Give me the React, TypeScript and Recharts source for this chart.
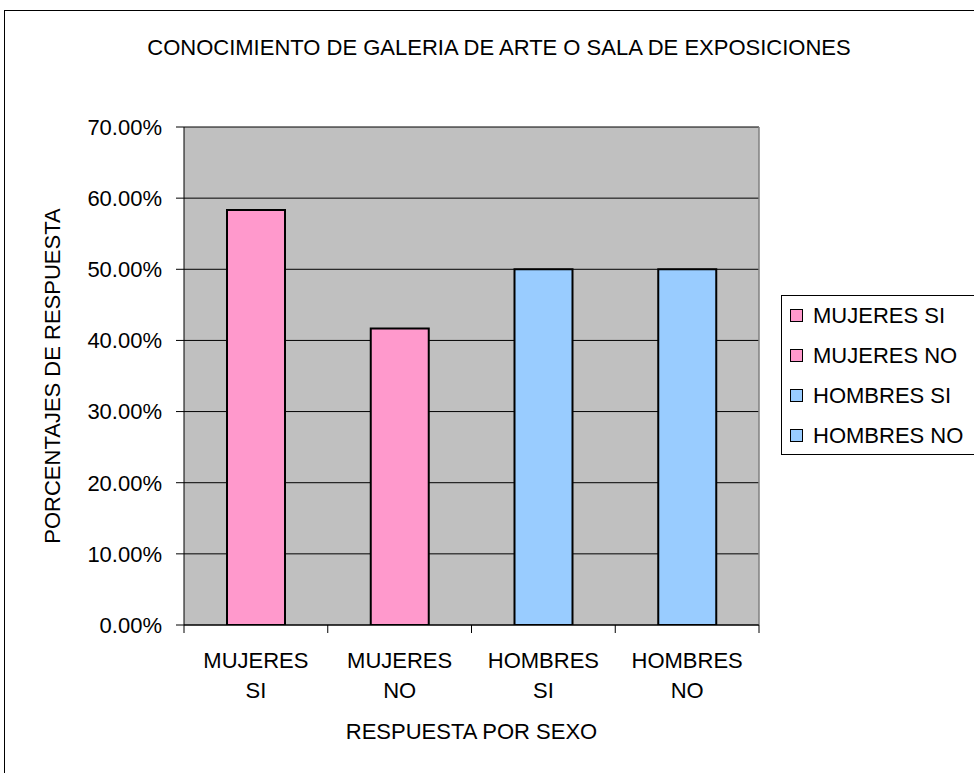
import React from "react";
import {
  BarChart,
  Bar,
  XAxis,
  YAxis,
  CartesianGrid,
  Cell,
  Legend,
  ReferenceLine,
} from "recharts";

const categories = ["MUJERES SI", "MUJERES NO", "HOMBRES SI", "HOMBRES NO"];
const percentages = [0.5833, 0.4167, 0.5, 0.5];
const barColors = ["#FF99CC", "#FF99CC", "#99CCFF", "#99CCFF"];
const yTicks = [0, 0.1, 0.2, 0.3, 0.4, 0.5, 0.6, 0.7];
const boundaryTicks = [0, 1, 2, 3, 4];

const title = "CONOCIMIENTO DE GALERIA DE ARTE O SALA DE EXPOSICIONES";
const xTitle = "RESPUESTA POR SEXO";
const yTitle = "PORCENTAJES DE RESPUESTA";

const FONT = "'Liberation Sans', Arial, sans-serif";
const FS = 22;

// pos = category centre on a 0..4 numeric axis used only for boundary tick marks
const data = categories.map((name, i) => ({ name, value: percentages[i], pos: i + 0.5 }));

const CatTick = (props: any) => {
  const { x, payload } = props;
  const parts = String(payload.value).split(" ");
  return (
    <g>
      <text x={x} y={668} textAnchor="middle" fontFamily={FONT} fontSize={FS} fill="#000">
        {parts[0]}
      </text>
      <text x={x} y={698} textAnchor="middle" fontFamily={FONT} fontSize={FS} fill="#000">
        {parts[1]}
      </text>
    </g>
  );
};

const XLabel = (props: any) => {
  const vb = props.viewBox || {};
  return (
    <text
      x={vb.x + vb.width / 2}
      y={739}
      textAnchor="middle"
      fontFamily={FONT}
      fontSize={FS}
      fill="#000"
    >
      {xTitle}
    </text>
  );
};

const YLabel = (props: any) => {
  const vb = props.viewBox || {};
  const cy = vb.y + vb.height / 2;
  return (
    <text
      x={60}
      y={cy}
      transform={`rotate(-90 60 ${cy})`}
      textAnchor="middle"
      fontFamily={FONT}
      fontSize={FS}
      fill="#000"
    >
      {yTitle}
    </text>
  );
};

const LegendContent = () => (
  <div
    style={{
      width: 200,
      height: 160,
      border: "1px solid #000",
      background: "#fff",
      boxSizing: "border-box",
      fontFamily: FONT,
      fontSize: FS,
      color: "#000",
    }}
  >
    {categories.map((c, i) => (
      <div key={c} style={{ height: 40, position: "relative", whiteSpace: "nowrap" }}>
        <div
          style={{
            position: "absolute",
            left: 8,
            top: 13,
            width: 13,
            height: 13,
            background: barColors[i],
            border: "1.5px solid #000",
            boxSizing: "border-box",
          }}
        />
        <span style={{ position: "absolute", left: 31, lineHeight: "40px", top: 0 }}>{c}</span>
      </div>
    ))}
  </div>
);

export default function App() {
  return (
    <div
      style={{
        position: "absolute",
        left: 0,
        top: 0,
        width: 974,
        height: 773,
        overflow: "hidden",
        background: "#fff",
      }}
    >
      <div
        style={{
          position: "absolute",
          left: 4,
          top: 10,
          width: 1000,
          height: 800,
          border: "1px solid #000",
          boxSizing: "border-box",
        }}
      />
      <div
        style={{
          position: "absolute",
          left: 0,
          top: 37,
          width: 998,
          textAlign: "center",
          fontFamily: FONT,
          fontSize: FS,
          lineHeight: "22px",
          color: "#000",
          whiteSpace: "nowrap",
        }}
      >
        {title}
      </div>
      <div style={{ position: "absolute", left: 0, top: 0 }}>
        <BarChart
          width={974}
          height={773}
          data={data}
          margin={{ top: 127, right: 215, bottom: 48, left: 0 }}
        >
          <CartesianGrid
            xAxisId="b"
            vertical={false}
            stroke="#000"
            strokeWidth={1}
            fill="#C0C0C0"
            fillOpacity={1}
          />
          <XAxis
            xAxisId="b"
            dataKey="name"
            axisLine={false}
            tickLine={false}
            height={99}
            tick={<CatTick />}
            interval={0}
            label={<XLabel />}
          />
          <XAxis
            xAxisId="a"
            dataKey="pos"
            type="number"
            domain={[0, 4]}
            ticks={boundaryTicks}
            tickFormatter={() => ""}
            tickSize={8}
            height={1}
            axisLine={{ stroke: "#000" }}
            tickLine={{ stroke: "#000" }}
            allowDataOverflow
          />
          <YAxis
            width={184}
            domain={[0, 0.7]}
            ticks={yTicks}
            tickSize={8}
            tickMargin={14}
            axisLine={{ stroke: "#000" }}
            tickLine={{ stroke: "#000" }}
            tick={{ fontFamily: FONT, fontSize: FS, fill: "#000" }}
            tickFormatter={(v: number) => (v * 100).toFixed(2) + "%"}
            label={<YLabel />}
            allowDataOverflow
          />
          <ReferenceLine xAxisId="a" x={4} stroke="#808080" strokeWidth={1.5} />
          <Legend
            layout="vertical"
            align="center"
            verticalAlign="middle"
            content={<LegendContent />}
            wrapperStyle={{ position: "absolute", left: 781, top: 295, width: 200, height: 160 }}
          />
          <Bar
            xAxisId="b"
            dataKey="value"
            barSize={58}
            stroke="#000"
            strokeWidth={2}
            isAnimationActive={false}
          >
            {data.map((d, i) => (
              <Cell key={d.name} fill={barColors[i]} />
            ))}
          </Bar>
        </BarChart>
      </div>
    </div>
  );
}
